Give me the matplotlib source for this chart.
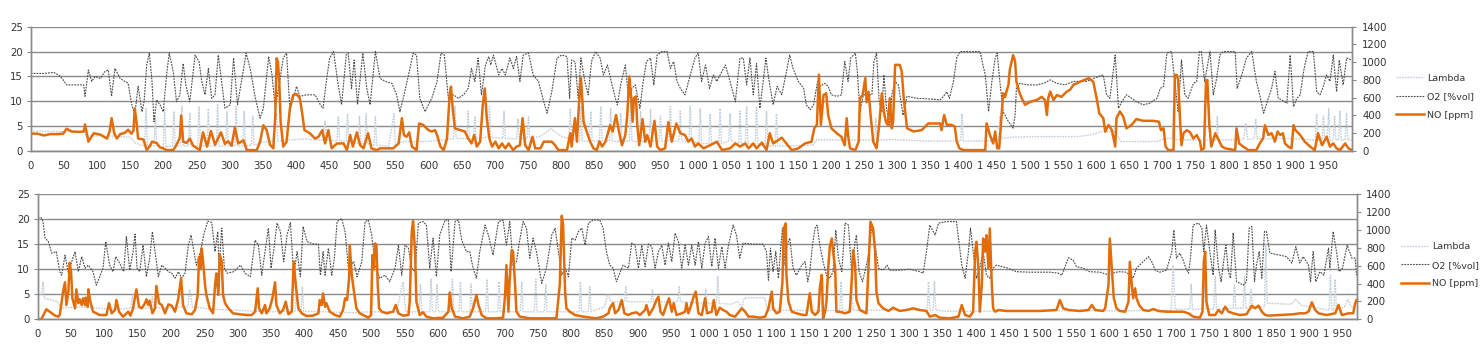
import numpy as np
import matplotlib
matplotlib.use("Agg")
import matplotlib.pyplot as plt
from matplotlib.ticker import FuncFormatter, MultipleLocator

# ---------------- data (time [s], value) ----------------
top_lambda = [(0,4.0),(40,3.9),(80,3.8),(84,3.0),(120,3.0),(150,2.8),(158,1.6),(166,1.2),
 (172,1.0),(174,8.5),(176,1.0),(186,1.0),(188,7.0),(190,1.0),(200,0.8),(202,8.5),(204,0.8),
 (214,1.0),(216,8.0),(218,1.0),(226,1.0),(228,9.0),(230,1.0),(238,1.0),(240,7.5),(242,1.0),
 (252,1.0),(254,9.0),(256,1.0),(266,1.0),(268,8.5),(270,1.0),(280,1.0),(282,9.5),(284,1.0),
 (294,1.0),(296,8.0),(298,1.0),(308,1.0),(310,9.0),(312,1.0),(320,1.0),(322,8.0),(324,1.0),
 (333,1.2),(335,7.0),(337,1.2),(350,1.8),(365,2.0),(371,7.5),(373,2.0),(385,2.2),(410,2.4),
 (440,2.2),(444,6.0),(446,2.2),(462,2.0),(464,7.0),(466,2.0),(476,2.0),(478,7.5),(480,2.0),
 (494,1.5),(496,7.0),(498,1.5),(504,1.5),(506,7.5),(508,1.5),(518,1.2),(520,7.0),(522,1.2),
 (540,1.0),(548,7.5),(550,1.0),(560,1.9),(600,1.9),(620,2.2),(638,2.5),(640,9.0),(642,2.5),
 (658,2.5),(660,8.0),(662,2.5),(668,2.5),(670,7.0),(672,2.5),(690,2.8),(692,9.0),(694,2.8),
 (712,2.5),(714,8.0),(716,2.5),(733,2.5),(735,6.5),(737,2.5),(749,2.5),(751,7.0),(753,2.5),
 (770,3.0),(785,4.5),(800,3.0),(812,2.5),(814,8.5),(816,2.5),(828,2.0),(830,9.0),(832,2.0),
 (843,2.0),(845,8.0),(847,2.0),(858,2.0),(860,9.0),(862,2.0),(873,2.0),(875,8.5),(877,2.0),
 (888,1.8),(890,7.5),(892,1.8),(903,2.0),(905,9.5),(907,2.0),(918,1.8),(920,8.0),(922,1.8),
 (933,2.0),(935,8.5),(937,2.0),(948,2.0),(950,7.0),(952,2.0),(963,2.0),(965,9.0),(967,2.0),
 (978,2.0),(980,8.0),(982,2.0),(993,2.0),(995,9.0),(997,2.0),(1008,1.5),(1010,8.5),(1012,1.5),
 (1023,1.5),(1025,7.5),(1027,1.5),(1038,1.5),(1040,8.5),(1042,1.5),(1053,2.0),(1055,7.5),
 (1057,2.0),(1068,1.5),(1070,8.0),(1072,1.5),(1078,1.5),(1080,9.0),(1082,1.5),(1093,1.2),
 (1095,9.0),(1097,1.2),(1108,1.0),(1110,8.0),(1112,1.0),(1123,1.0),(1125,7.5),(1127,1.0),
 (1140,1.0),(1180,1.2),(1186,2.3),(1230,2.2),(1273,2.2),(1275,6.5),(1277,2.2),(1300,2.3),
 (1350,2.0),(1403,2.0),(1405,7.5),(1407,2.0),(1440,2.0),(1460,2.2),(1462,7.0),(1464,2.5),
 (1480,2.8),(1520,2.9),(1580,2.9),(1600,3.3),(1615,3.9),(1635,3.9),(1645,1.9),(1700,1.9),
 (1710,2.5),(1722,2.5),(1724,8.5),(1726,2.3),(1760,2.2),(1788,2.2),(1790,7.0),(1792,2.2),
 (1830,2.3),(1833,5.5),(1836,2.3),(1846,2.5),(1848,6.5),(1850,2.5),(1858,2.5),(1860,5.0),
 (1862,2.5),(1900,2.5),(1938,2.2),(1940,7.5),(1942,2.2),(1948,2.2),(1950,7.0),(1952,2.2),
 (1956,2.2),(1958,8.5),(1960,2.2),(1965,2.2),(1967,7.0),(1969,2.2),(1973,2.2),(1975,8.0),
 (1977,2.2),(1983,2.2),(1985,7.5),(1987,2.2),(1993,2.2)]

top_o2 = [(0,15.6),(20,15.6),(35,15.8),(44,15.1),(49,14.3),(54,13.3),(80,13.3),(82,11.0),
 (87,16.3),(92,14.0),(97,15.0),(105,14.6),(112,16.0),(117,16.3),(122,11.0),(127,16.6),
 (135,14.6),(142,14.0),(147,13.6),(152,9.6),(157,7.2),(162,13.0),(168,7.9),(171,9.9),
 (175,17.3),(179,19.7),(183,14.0),(186,5.9),(190,10.3),(195,9.3),(200,7.9),(205,15.3),
 (209,19.7),(215,16.0),(220,9.9),(225,11.3),(230,17.6),(234,13.3),(240,9.9),(248,19.3),
 (254,18.0),(258,14.0),(263,11.3),(268,16.6),(273,10.6),(278,11.3),(283,19.3),(288,14.0),
 (293,8.6),(301,9.3),(306,18.7),(312,9.3),(318,14.0),(325,19.7),(331,16.6),(339,10.6),
 (346,6.6),(351,8.6),(359,19.0),(364,15.3),(369,8.6),(376,14.3),(381,18.7),(386,19.7),
 (391,8.3),(396,10.6),(401,13.0),(406,11.0),(416,11.3),(429,11.3),(437,9.3),(441,8.6),
 (446,14.0),(451,18.7),(457,20.0),(463,14.0),(469,9.3),(476,19.3),(479,19.7),(484,12.6),
 (488,18.3),(493,9.3),(501,19.7),(507,12.6),(512,9.3),(520,20.0),(527,14.6),(535,14.0),
 (545,13.6),(552,11.3),(557,7.9),(562,10.6),(570,15.3),(577,19.7),(582,19.3),(587,10.6),
 (595,7.9),(600,9.3),(605,10.6),(613,14.0),(619,19.7),(624,19.3),(630,10.6),(638,11.3),
 (645,10.6),(653,11.3),(660,12.6),(665,16.6),(670,14.0),(675,18.7),(680,11.3),(686,17.3),
 (691,19.0),(694,17.3),(698,19.3),(706,15.3),(711,16.6),(716,15.3),(723,18.7),(728,16.6),
 (733,19.0),(738,14.0),(743,19.3),(751,19.7),(758,15.3),(766,14.0),(774,9.9),(779,7.6),
 (786,11.9),(794,18.7),(801,19.3),(809,19.0),(813,10.6),(816,18.3),(821,18.0),(826,10.6),
 (830,18.7),(836,14.0),(841,11.3),(846,18.0),(852,20.0),(859,18.7),(864,15.3),(870,17.3),
 (877,13.3),(882,10.6),(885,9.3),(890,13.3),(897,17.3),(902,10.6),(907,12.6),(912,13.3),
 (919,8.6),(924,14.0),(929,18.0),(935,18.7),(940,13.3),(945,19.3),(952,20.0),(960,20.0),
 (965,16.6),(970,18.0),(975,14.0),(980,12.6),(987,11.3),(995,15.3),(1002,18.7),(1007,19.7),
 (1012,14.0),(1018,17.3),(1024,12.6),(1030,15.3),(1035,14.0),(1040,15.3),(1048,17.3),
 (1055,14.0),(1063,9.9),(1070,18.7),(1075,18.7),(1080,13.3),(1085,18.7),(1090,11.3),
 (1095,17.6),(1100,8.6),(1105,14.0),(1109,18.7),(1114,14.0),(1120,9.3),(1126,13.0),
 (1133,11.3),(1140,16.0),(1145,19.3),(1150,16.6),(1158,14.0),(1166,12.6),(1170,9.3),
 (1176,8.3),(1181,9.3),(1187,14.0),(1191,13.0),(1198,13.6),(1203,13.0),(1208,11.3),
 (1216,11.0),(1223,11.3),(1228,18.0),(1233,14.0),(1237,18.7),(1244,19.7),(1247,16.0),
 (1251,7.9),(1256,11.3),(1269,11.3),(1272,18.0),(1276,19.7),(1280,9.9),(1284,7.9),
 (1287,15.3),(1291,8.6),(1296,5.2),(1299,11.3),(1304,14.0),(1309,13.3),(1316,7.2),
 (1322,11.0),(1337,10.6),(1352,10.5),(1372,10.3),(1377,11.0),(1382,11.9),(1386,10.6),
 (1392,14.0),(1397,18.7),(1402,20.0),(1432,20.0),(1440,15.3),(1445,7.9),(1450,14.0),
 (1455,18.7),(1458,19.7),(1462,14.0),(1467,7.9),(1475,5.9),(1482,4.6),(1485,7.2),
 (1487,12.6),(1492,13.6),(1503,13.3),(1518,13.3),(1528,13.6),(1538,14.3),(1548,13.6),
 (1560,13.3),(1573,14.0),(1593,14.0),(1611,15.0),(1618,15.3),(1623,11.3),(1628,10.6),
 (1636,19.3),(1641,8.6),(1646,9.9),(1653,11.3),(1661,10.6),(1668,9.9),(1678,9.3),
 (1688,9.6),(1699,10.6),(1704,12.6),(1709,13.0),(1714,19.7),(1721,20.0),(1726,14.0),
 (1731,7.9),(1736,18.3),(1741,11.3),(1746,10.6),(1754,13.6),(1759,14.0),(1763,20.0),
 (1766,20.0),(1771,14.0),(1779,20.0),(1784,11.3),(1789,14.6),(1794,19.3),(1799,20.0),
 (1817,20.0),(1820,12.6),(1827,15.3),(1834,18.7),(1842,20.0),(1849,14.0),(1854,11.3),
 (1860,7.6),(1867,10.6),(1872,12.6),(1877,16.0),(1882,10.6),(1887,10.3),(1895,9.6),
 (1900,19.3),(1905,8.9),(1910,10.6),(1915,11.3),(1921,16.6),(1927,20.0),(1935,20.0),
 (1940,11.9),(1945,11.3),(1949,12.6),(1955,15.3),(1960,14.0),(1965,19.3),(1970,11.9),
 (1974,18.3),(1980,13.3),(1985,18.7),(1993,18.3)]

top_no = [(0,195),(10,195),(20,175),(29,190),(40,190),(49,195),(54,250),(62,220),(72,215),
 (80,220),(82,300),(87,105),(95,200),(105,185),(115,140),(119,220),(122,370),(126,200),
 (130,140),(135,190),(142,205),(147,240),(152,195),(155,230),(157,480),(160,300),(162,140),
 (170,130),(175,10),(180,60),(183,105),(190,90),(195,40),(200,30),(205,10),(215,10),(220,70),
 (225,150),(227,400),(230,105),(235,90),(240,140),(245,60),(255,10),(260,210),(266,50),
 (272,225),(278,70),(287,210),(293,80),(298,110),(303,60),(308,265),(313,85),(321,120),
 (326,10),(341,10),(346,105),(351,290),(356,235),(361,70),(366,30),(369,400),(371,1045),
 (373,1000),(375,780),(377,330),(381,50),(386,105),(391,480),(396,630),(401,640),(406,595),
 (410,400),(413,235),(421,200),(429,140),(434,160),(440,235),(444,85),(449,235),(454,30),
 (462,85),(472,85),(477,10),(482,180),(486,50),(492,210),(497,65),(502,30),(509,200),
 (514,30),(522,10),(527,30),(547,30),(555,85),(560,370),(563,180),(567,160),(571,210),
 (575,50),(582,10),(586,310),(592,295),(600,235),(605,220),(610,235),(613,180),(618,50),
 (623,10),(628,140),(632,630),(634,725),(637,445),(640,255),(648,235),(655,220),(660,140),
 (665,85),(669,180),(673,50),(678,105),(682,520),(685,705),(688,370),(692,140),(696,50),
 (701,105),(706,30),(711,85),(716,30),(721,85),(728,10),(733,50),(738,65),(742,370),
 (746,65),(751,10),(757,160),(761,30),(769,30),(774,105),(786,105),(791,65),(796,10),
 (809,10),(814,200),(816,50),(821,370),(824,105),(827,520),(830,820),(832,595),(834,330),
 (838,235),(844,105),(849,30),(854,10),(858,110),(862,50),(867,105),(870,180),(874,290),
 (878,220),(883,405),(887,235),(892,65),(897,180),(900,405),(903,840),(906,595),(908,330),
 (910,595),(913,615),(915,295),(918,65),(923,360),(927,105),(930,180),(935,50),(941,340),
 (945,50),(950,10),(957,30),(962,325),(967,105),(974,310),(980,200),(987,180),(992,105),
 (997,140),(1002,50),(1007,85),(1015,30),(1025,65),(1035,105),(1043,10),(1055,30),
 (1063,85),(1070,50),(1078,85),(1083,30),(1090,85),(1095,30),(1103,95),(1110,10),
 (1115,200),(1120,85),(1133,150),(1140,85),(1148,10),(1158,30),(1168,85),(1178,105),
 (1182,255),(1186,295),(1189,860),(1192,295),(1196,630),(1200,650),(1203,405),(1208,255),
 (1216,200),(1223,160),(1228,65),(1231,370),(1233,180),(1236,30),(1244,10),(1249,105),
 (1251,595),(1255,630),(1259,820),(1261,550),(1264,665),(1267,405),(1271,105),(1276,30),
 (1280,295),(1284,650),(1287,445),(1290,330),(1293,295),(1296,595),(1299,255),(1301,330),
 (1304,970),(1311,970),(1314,895),(1317,595),(1322,255),(1332,220),(1344,235),(1354,310),
 (1372,310),(1374,235),(1378,405),(1382,295),(1389,295),(1394,275),(1397,105),(1401,30),
 (1407,10),(1440,10),(1442,310),(1445,235),(1447,180),(1452,85),(1455,220),(1458,30),
 (1461,30),(1465,445),(1467,650),(1470,610),(1472,670),(1475,745),(1477,915),(1482,1080),
 (1485,1010),(1487,780),(1491,670),(1495,595),(1500,520),(1508,555),(1518,575),(1525,610),
 (1530,575),(1533,405),(1535,595),(1538,670),(1543,575),(1548,630),(1555,610),(1563,670),
 (1568,690),(1573,745),(1583,780),(1596,820),(1603,780),(1608,595),(1612,425),(1618,370),
 (1621,218),(1626,293),(1631,235),(1636,50),(1638,370),(1643,445),(1648,390),(1653,255),
 (1661,295),(1668,360),(1678,340),(1693,340),(1702,330),(1705,235),(1709,255),(1712,50),
 (1716,10),(1724,10),(1726,855),(1729,855),(1731,800),(1734,330),(1736,65),(1739,200),
 (1744,235),(1749,210),(1754,140),(1759,180),(1764,105),(1766,10),(1770,30),(1773,780),
 (1775,800),(1778,295),(1781,50),(1787,200),(1792,125),(1797,50),(1802,30),(1817,10),
 (1819,255),(1823,85),(1829,50),(1837,10),(1849,10),(1854,85),(1859,140),(1862,290),
 (1867,180),(1872,200),(1877,105),(1881,220),(1885,180),(1889,200),(1892,85),(1897,50),
 (1902,30),(1905,290),(1908,235),(1915,180),(1922,105),(1930,50),(1937,10),(1942,200),
 (1948,65),(1955,160),(1960,50),(1965,85),(1970,30),(1975,10),(1983,85),(1988,30),(1993,10)]

bot_lambda = [(0,5.0),(6,5.0),(8,7.5),(10,4.2),(30,3.5),(35,2.2),(60,2.5),(90,2.2),(120,2.0),
 (140,2.2),(142,5.0),(144,2.2),(170,2.3),(172,4.5),(174,2.3),(200,2.3),(225,2.5),(228,6.0),
 (232,2.5),(260,2.0),(300,1.8),(330,1.6),(360,1.5),(386,1.6),(388,7.5),(390,1.6),(395,1.6),
 (397,6.5),(399,1.6),(430,1.5),(470,1.3),(500,1.5),(538,1.5),(548,7.5),(552,1.5),(572,1.5),
 (574,7.0),(576,1.5),(588,1.5),(590,8.0),(592,1.5),(597,1.5),(599,7.0),(601,1.5),(620,1.5),
 (622,8.0),(624,1.5),(632,1.5),(634,7.5),(636,1.5),(648,1.5),(650,7.0),(652,1.5),(672,1.5),
 (674,8.0),(676,1.5),(690,1.5),(692,7.5),(694,1.5),(724,1.5),(726,7.5),(728,1.5),(745,1.5),
 (747,8.0),(749,1.5),(760,1.5),(762,7.0),(764,1.5),(812,1.5),(814,7.5),(816,1.5),(826,1.5),
 (828,6.5),(830,1.5),(850,2.5),(855,5.0),(860,3.5),(880,3.5),(882,6.5),(884,3.5),(920,3.5),
 (922,6.0),(924,3.5),(960,3.5),(962,6.5),(964,3.5),(1000,3.2),(1002,6.0),(1004,3.2),
 (1018,3.2),(1020,8.5),(1022,3.2),(1040,3.0),(1050,3.5),(1056,2.5),(1060,4.3),(1090,4.3),
 (1095,1.8),(1140,1.8),(1180,1.7),(1203,1.8),(1205,7.5),(1207,1.8),(1219,1.8),(1221,7.0),
 (1223,1.8),(1300,1.8),(1334,1.8),(1336,7.5),(1338,1.8),(1343,1.8),(1345,7.5),(1347,1.8),
 (1360,1.6),(1400,1.6),(1500,1.7),(1600,1.7),(1640,1.7),(1700,1.8),(1703,10.8),(1706,2.0),
 (1728,2.0),(1730,7.0),(1732,2.0),(1748,2.0),(1750,7.5),(1752,2.0),(1764,2.0),(1766,8.5),
 (1768,2.0),(1793,2.2),(1795,7.0),(1797,2.2),(1808,2.2),(1810,8.5),(1812,2.2),(1818,2.2),
 (1820,6.0),(1822,2.2),(1840,2.5),(1842,15.0),(1844,3.2),(1880,3.0),(1887,4.0),(1895,2.8),
 (1937,1.8),(1939,8.8),(1941,1.8),(1944,1.8),(1946,8.0),(1948,1.8),(1960,2.5),(1965,4.0),
 (1970,2.5),(1978,2.5)]

bot_o2 = [(0,20.3),(5,20.3),(8,19.5),(11,16.2),(16,15.5),(21,13.2),(28,13.5),(33,9.5),
 (36,8.8),(41,12.8),(46,9.2),(51,11.5),(56,13.5),(61,9.5),(66,12.5),(71,10.2),(76,10.8),
 (83,9.5),(88,6.8),(93,8.5),(98,10.2),(102,15.5),(108,10.8),(113,9.5),(117,12.5),(123,11.2),
 (129,9.5),(133,16.5),(138,9.8),(143,13.5),(146,17.0),(149,10.2),(153,9.5),(158,14.8),
 (163,8.5),(168,12.2),(172,17.5),(176,13.5),(181,8.5),(186,10.8),(191,10.2),(196,9.5),
 (201,9.2),(206,8.2),(211,9.5),(216,8.2),(221,9.2),(226,14.8),(230,16.8),(234,13.8),
 (238,10.8),(244,13.5),(249,16.8),(255,19.6),(261,19.3),(266,13.5),(270,17.5),(272,10.2),
 (276,18.2),(280,10.2),(284,9.2),(294,9.5),(304,10.8),(311,9.2),(319,8.5),(326,15.8),
 (331,14.8),(336,8.8),(341,13.5),(346,18.2),(350,10.2),(354,13.8),(359,19.2),(364,17.5),
 (369,11.5),(374,16.8),(379,19.3),(384,8.8),(389,13.5),(394,8.5),(398,18.5),(404,15.5),
 (414,15.0),(421,15.0),(424,8.8),(428,13.5),(431,8.8),(436,14.2),(441,8.8),(445,12.2),
 (449,19.5),(456,20.1),(461,17.5),(466,10.2),(474,11.5),(479,8.5),(486,11.5),(491,19.5),
 (496,19.8),(501,16.8),(506,10.8),(513,8.2),(521,8.8),(528,7.5),(536,10.2),(541,14.8),
 (546,8.8),(551,14.8),(556,14.2),(561,10.2),(566,9.5),(571,19.2),(578,19.5),(583,18.8),
 (588,10.2),(593,16.2),(598,8.5),(603,16.8),(611,19.8),(616,19.8),(620,9.5),(626,19.5),
 (631,19.8),(636,15.8),(643,13.5),(648,13.5),(653,10.2),(658,8.2),(663,13.5),(671,18.8),
 (676,16.8),(683,12.8),(691,19.5),(698,19.8),(703,14.8),(708,19.5),(713,10.8),(718,11.5),
 (723,15.8),(728,19.5),(733,18.2),(738,12.2),(743,16.2),(748,13.5),(756,7.2),(763,10.2),
 (771,16.8),(776,18.2),(781,13.5),(786,8.8),(791,10.2),(796,8.5),(801,16.2),(806,15.8),
 (811,17.5),(816,18.2),(821,14.8),(826,19.2),(833,19.8),(843,19.8),(848,18.2),(853,13.5),
 (858,10.8),(863,10.2),(868,7.5),(873,9.2),(878,10.8),(886,10.2),(891,15.2),(896,14.8),
 (901,10.2),(906,14.8),(911,10.5),(916,15.0),(921,14.5),(926,10.2),(931,13.5),(936,14.8),
 (941,10.8),(946,15.2),(951,11.5),(956,17.2),(961,15.5),(966,10.2),(971,14.8),(976,10.8),
 (981,14.8),(986,10.8),(991,15.5),(996,10.2),(1001,15.2),(1006,16.5),(1011,10.5),(1016,16.2),
 (1021,10.2),(1026,14.5),(1031,10.2),(1036,14.8),(1043,18.8),(1048,16.8),(1053,12.2),
 (1058,15.2),(1073,15.0),(1088,15.0),(1093,13.5),(1096,7.8),(1099,14.2),(1103,9.5),
 (1107,13.5),(1111,8.2),(1114,13.5),(1117,18.2),(1121,10.8),(1124,14.8),(1128,16.2),
 (1133,10.2),(1138,8.8),(1146,10.8),(1151,11.5),(1155,7.5),(1158,9.5),(1162,14.8),
 (1166,18.2),(1169,18.8),(1173,14.8),(1178,11.5),(1183,8.8),(1188,8.2),(1193,9.5),
 (1197,17.8),(1201,12.2),(1206,9.5),(1211,19.2),(1216,18.8),(1221,8.8),(1226,15.5),
 (1228,16.8),(1232,9.5),(1237,7.5),(1242,10.2),(1247,13.5),(1251,18.8),(1256,14.8),
 (1261,10.2),(1268,9.8),(1274,10.8),(1278,9.8),(1293,9.8),(1308,10.0),(1323,9.5),
 (1328,9.2),(1333,13.5),(1338,18.8),(1346,16.8),(1351,19.2),(1363,19.5),(1378,19.5),
 (1386,10.8),(1391,8.2),(1396,13.5),(1399,18.2),(1403,13.5),(1408,8.2),(1413,10.2),
 (1418,13.5),(1423,8.8),(1428,8.2),(1433,10.2),(1438,10.8),(1453,10.3),(1468,9.5),
 (1488,9.4),(1503,9.4),(1518,9.4),(1531,9.2),(1536,8.8),(1546,12.3),(1553,11.8),
 (1558,10.5),(1568,10.2),(1578,9.5),(1593,9.4),(1608,8.8),(1613,9.2),(1621,9.5),
 (1633,9.4),(1643,8.2),(1648,10.2),(1658,11.5),(1666,12.5),(1671,11.5),(1676,9.8),
 (1683,9.4),(1693,9.8),(1701,13.5),(1704,17.8),(1708,12.2),(1713,13.2),(1718,11.8),
 (1722,10.2),(1726,9.2),(1729,12.2),(1733,18.8),(1741,19.2),(1746,18.2),(1749,13.5),
 (1753,18.8),(1758,13.5),(1763,8.8),(1766,17.8),(1771,10.2),(1775,7.5),(1778,10.8),
 (1782,14.8),(1786,9.5),(1789,8.2),(1793,17.2),(1798,7.5),(1803,7.2),(1808,6.8),
 (1813,7.5),(1817,18.2),(1821,18.5),(1825,7.5),(1828,10.8),(1832,13.5),(1836,8.2),
 (1840,17.5),(1843,17.5),(1848,13.2),(1863,12.8),(1873,12.5),(1881,11.2),(1887,14.5),
 (1893,11.2),(1898,12.5),(1906,10.8),(1909,7.5),(1913,13.5),(1917,7.5),(1923,9.5),
 (1929,8.8),(1936,14.2),(1938,10.2),(1943,17.5),(1948,13.5),(1952,9.5),(1957,10.2),
 (1964,14.8),(1971,12.2),(1976,12.2),(1978,8.8)]

bot_no = [(0,0),(5,0),(6,11),(13,112),(18,85),(26,41),(31,30),(33,48),(36,197),(38,309),
 (41,413),(43,160),(46,309),(48,632),(50,532),(52,235),(56,123),(58,335),(61,180),(63,223),
 (66,160),(68,235),(71,160),(72,242),(75,141),(76,335),(79,197),(83,85),(93,48),(103,48),
 (107,180),(111,67),(116,104),(118,215),(122,85),(128,30),(136,85),(139,41),(143,123),
 (148,335),(152,141),(156,123),(161,180),(163,223),(166,160),(168,208),(172,67),(176,123),
 (178,372),(182,180),(186,160),(191,67),(196,167),(201,152),(206,85),(211,235),(215,458),
 (218,160),(223,67),(231,56),(236,104),(240,272),(242,700),(244,560),(246,792),(248,647),
 (251,383),(253,272),(258,123),(263,67),(266,383),(268,513),(271,272),(273,725),(276,647),
 (278,272),(281,180),(286,123),(293,67),(303,56),(313,48),(321,48),(326,85),(330,346),
 (332,123),(336,67),(341,160),(343,67),(348,123),(352,235),(356,413),(358,160),(363,67),
 (368,104),(372,197),(376,56),(381,85),(384,645),(387,383),(391,123),(396,67),(403,37),
 (413,41),(421,67),(423,215),(426,160),(428,290),(431,141),(433,180),(438,85),(446,48),
 (453,30),(458,104),(461,235),(464,215),(467,458),(468,830),(471,495),(473,383),(478,123),
 (483,67),(491,37),(496,18),(500,48),(502,718),(504,560),(506,848),(508,830),(510,383),
 (512,123),(516,85),(523,67),(533,85),(537,160),(541,67),(548,41),(556,48),(558,197),
 (561,978),(563,1097),(566,755),(568,197),(573,48),(578,78),(583,30),(593,11),(608,18),
 (616,85),(618,300),(621,123),(626,30),(638,11),(648,30),(653,123),(658,272),(661,160),
 (666,48),(673,11),(688,11),(698,18),(701,272),(703,605),(706,85),(708,458),(711,775),
 (713,755),(716,383),(718,85),(723,30),(738,11),(758,11),(778,11),(783,383),(786,1157),
 (788,1055),(791,309),(793,123),(798,85),(806,48),(818,30),(838,11),(848,30),(856,67),
 (858,123),(863,180),(866,67),(871,104),(876,215),(880,67),(886,48),(891,67),(898,78),
 (903,48),(911,104),(913,160),(917,48),(923,123),(928,215),(931,253),(934,85),(938,48),
 (943,160),(947,235),(951,85),(954,180),(958,48),(966,67),(971,85),(973,180),(976,67),
 (981,180),(983,235),(987,309),(991,67),(996,48),(1001,235),(1004,67),(1011,85),(1014,215),
 (1018,48),(1023,130),(1028,104),(1033,85),(1038,48),(1046,30),(1056,123),(1061,85),
 (1066,30),(1073,30),(1083,18),(1091,30),(1096,123),(1101,309),(1103,123),(1108,67),
 (1113,85),(1117,420),(1119,1015),(1122,1071),(1123,495),(1126,197),(1131,85),(1138,67),
 (1148,48),(1153,48),(1158,290),(1161,85),(1166,48),(1171,85),(1173,346),(1176,495),
 (1178,11),(1181,85),(1183,197),(1186,605),(1188,811),(1191,903),(1193,755),(1196,570),
 (1198,85),(1203,85),(1211,67),(1218,85),(1221,458),(1223,773),(1226,605),(1228,215),
 (1233,104),(1238,85),(1243,67),(1246,570),(1249,1090),(1253,1015),(1256,755),(1258,309),
 (1261,180),(1268,123),(1276,93),(1283,130),(1293,93),(1303,104),(1313,123),(1323,104),
 (1333,93),(1338,30),(1346,48),(1353,18),(1368,11),(1381,30),(1386,160),(1391,48),
 (1398,30),(1403,85),(1406,755),(1408,866),(1411,570),(1413,85),(1416,383),(1418,903),
 (1421,755),(1423,940),(1426,570),(1428,1015),(1431,383),(1433,123),(1436,85),(1441,104),
 (1453,93),(1478,93),(1503,93),(1528,104),(1533,215),(1538,123),(1546,104),(1563,93),
 (1576,104),(1581,160),(1586,104),(1598,93),(1601,123),(1606,383),(1608,903),(1611,570),
 (1614,235),(1618,123),(1623,93),(1631,85),(1636,197),(1638,643),(1641,383),(1643,235),
 (1646,346),(1648,235),(1652,160),(1658,104),(1666,93),(1673,115),(1681,93),(1693,85),
 (1708,85),(1718,85),(1726,67),(1733,30),(1743,18),(1747,85),(1749,643),(1751,755),
 (1753,197),(1757,48),(1766,48),(1771,104),(1776,67),(1781,141),(1786,85),(1793,67),
 (1803,48),(1813,56),(1821,152),(1826,123),(1831,152),(1836,85),(1841,48),(1846,41),
 (1863,48),(1883,56),(1893,67),(1901,67),(1906,85),(1911,190),(1916,104),(1921,67),
 (1933,48),(1946,67),(1951,160),(1956,48),(1966,67),(1973,67),(1976,178),(1978,215)]

series_names = ["Lambda", "O2 [%vol]", "NO [ppm]"]
x_ticks_every = 50
left_ticks = [0, 5, 10, 15, 20, 25]
right_ticks = [0, 200, 400, 600, 800, 1000, 1200, 1400]

# ---------------- styling ----------------
C_LAMBDA = "#c3cedb"
C_O2 = "#4a4a4a"
C_NO = "#e36c0a"
C_GRID = "#8a8a8a"
C_TEXT = "#333333"
FS = 7.3

plt.rcParams['font.family'] = ['DejaVu Sans']

fig = plt.figure(figsize=(14.83, 3.54), dpi=100)

W, H = 1483.0, 354.0
def rect(l, r, t, b):
    return [l / W, 1 - b / H, (r - l) / W, (b - t) / H]

panels = [
    dict(rect=rect(30.7, 1352.5, 26.7, 151.0), xmax=1994, lam=top_lambda, o2=top_o2, no=top_no,
         leg=(1396.0, 96.7)),
    dict(rect=rect(37.7, 1356.5, 194.0, 319.3), xmax=1978, lam=bot_lambda, o2=bot_o2, no=bot_no,
         leg=(1401.0, 265.3)),
]

fmt = FuncFormatter(lambda x, p: f"{int(round(x)):,}".replace(",", " "))

for p in panels:
    ax = fig.add_axes(p["rect"])
    ax2 = ax.twinx()
    t, v = np.array(p["lam"]).T
    l1, = ax.plot(t, v, color=C_LAMBDA, lw=1.0, ls=(0, (1.2, 0.8)), label=series_names[0])
    t, v = np.array(p["o2"]).T
    l2, = ax.plot(t, v, color=C_O2, lw=0.8, ls=(0, (1.6, 1.0)), label=series_names[1])
    t, v = np.array(p["no"]).T
    l3, = ax2.plot(t, v, color=C_NO, lw=1.8, solid_joinstyle='round', label=series_names[2])

    ax.set_xlim(0, p["xmax"])
    ax.set_ylim(0, 25)
    ax2.set_ylim(0, 1400)
    ax.set_yticks(left_ticks)
    ax2.set_yticks(right_ticks)
    ax.grid(axis='y', color=C_GRID, lw=1.0)
    ax.set_axisbelow(True)

    ax.xaxis.set_major_locator(MultipleLocator(x_ticks_every))
    ax.xaxis.set_minor_locator(MultipleLocator(100))
    ax.xaxis.set_major_formatter(fmt)
    ax.tick_params(axis='x', which='major', length=0, pad=7, labelsize=FS, colors=C_TEXT)
    ax.tick_params(axis='x', which='minor', length=3, color=C_GRID)
    ax.tick_params(axis='y', length=3, pad=2.5, labelsize=FS, colors=C_TEXT, color=C_GRID)
    ax2.tick_params(axis='y', length=3, pad=4, labelsize=FS, colors=C_TEXT, color=C_GRID)

    for a in (ax, ax2):
        a.spines['top'].set_visible(False)
        for s in ('left', 'right', 'bottom'):
            a.spines[s].set_color(C_GRID)
            a.spines[s].set_linewidth(1.0)

    lx, ly = p["leg"]
    leg = fig.legend(handles=[l1, l2, l3], loc='center left',
                     bbox_to_anchor=(lx / W, 1 - ly / H), frameon=False,
                     fontsize=6.8, handlelength=3.0, handletextpad=0.25,
                     labelspacing=1.0, borderpad=0, borderaxespad=0)
    for txt in leg.get_texts():
        txt.set_color(C_TEXT)

fig.savefig("out.png", dpi=100, facecolor="white")
